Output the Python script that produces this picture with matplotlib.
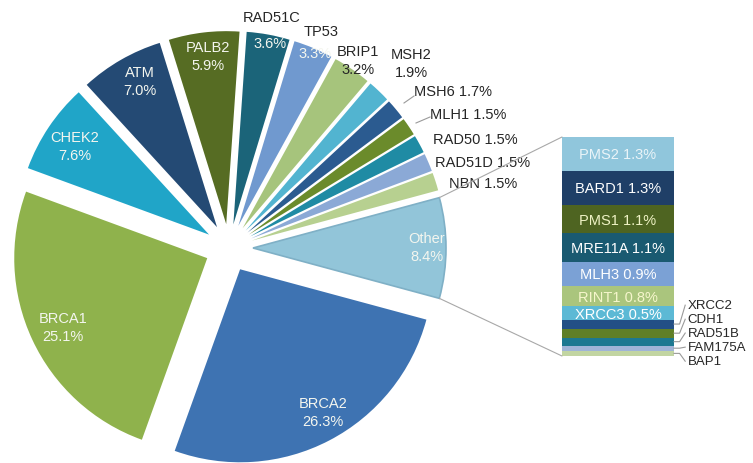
import numpy as np
import matplotlib.pyplot as plt
from matplotlib.patches import ConnectionPatch

plt.rcParams['font.family'] = ['Liberation Sans', 'DejaVu Sans']

# pie slices, clockwise starting with "Other" on the right
pie_labels = ['Other', 'BRCA2', 'BRCA1', 'CHEK2', 'ATM', 'PALB2', 'RAD51C', 'TP53',
              'BRIP1', 'MSH2', 'MSH6', 'MLH1', 'RAD50', 'RAD51D', 'NBN']
pie_values = [8.4, 26.3, 25.1, 7.6, 7.0, 5.9, 3.6, 3.3, 3.2, 1.9, 1.7, 1.5, 1.5, 1.5, 1.5]
pie_colors = ['#92c5d9', '#3e73b2', '#8fb24c', '#20a5c8', '#244a74', '#566c23', '#1b6479',
              '#7099cf', '#a6c47c', '#52b4d0', '#2b5b90', '#6b8b2b', '#1f8ba4', '#8ba9d6', '#b7d090']

# breakdown of "Other", top to bottom
bar_labels = ['PMS2', 'BARD1', 'PMS1', 'MRE11A', 'MLH3', 'RINT1', 'XRCC3',
              'XRCC2', 'CDH1', 'RAD51B', 'FAM175A', 'BAP1']
bar_values = [1.3, 1.3, 1.1, 1.1, 0.9, 0.8, 0.5, 0.35, 0.35, 0.3, 0.2, 0.2]
bar_colors = ['#90c6dc', '#1f3f67', '#4e6421', '#1a5a71', '#7ba1d5', '#aac57d', '#5cb9d5',
              '#234f85', '#5f7f27', '#1c7891', '#a0b4d7', '#c2d5a2']

W, H = 753, 464
fig = plt.figure(figsize=(W / 100, H / 100), dpi=100)
ax = fig.add_axes([0, 0, 1, 1])

wedges, _ = ax.pie(pie_values, colors=pie_colors, startangle=15.12, counterclock=False,
                   explode=[24] * len(pie_values), radius=193, center=(229, H - 249),
                   wedgeprops=dict(linewidth=0))
wedges[0].set_edgecolor('#7fb0c6')
wedges[0].set_linewidth(1.2)
ax.set_xlim(0, W)
ax.set_ylim(0, H)
ax.set_aspect('equal')
ax.axis('off')

txt = dict(fontsize=10.5, ha='center', va='center', linespacing=1.45)
white = '#f4f6ef'
dark = '#262626'

# labels on the pie (screen pixel positions, y measured from the top)
pie_text = [
    ('BRCA2\n26.3%', 323, 413, white),
    ('BRCA1\n25.1%', 63, 328, white),
    ('CHEK2\n7.6%', 75, 147, white),
    ('ATM\n7.0%', 140, 82, white),
    ('PALB2\n5.9%', 208, 57, white),
    ('RAD51C', 272, 18, dark),
    ('3.6%', 270, 44, white),
    ('TP53', 321, 32, dark),
    ('3.3%', 315, 54, white),
    ('BRIP1\n3.2%', 358, 61, dark),
    ('MSH2\n1.9%', 411, 64, dark),
    ('MSH6 1.7%', 453, 92, dark),
    ('MLH1 1.5%', 468, 115, dark),
    ('RAD50 1.5%', 475, 140, dark),
    ('RAD51D 1.5%', 483, 163, dark),
    ('NBN 1.5%', 483, 184, dark),
    ('Other\n8.4%', 427, 248, white),
]
for s, x, y, c in pie_text:
    ax.text(x, H - y, s, color=c, **txt)

# short leader lines for MSH6 and MLH1
ax.plot([414, 404], [H - 97, H - 104], color='#9a9a9a', lw=0.8)
ax.plot([430, 416], [H - 118, H - 124], color='#9a9a9a', lw=0.8)

# stacked bar for "Other"
ax2 = fig.add_axes([562 / W, (H - 357) / H, 112 / W, 219 / H])
bottoms = np.concatenate([[0], np.cumsum(bar_values)[:-1]])
ax2.bar(0, bar_values, bottom=bottoms, width=1, color=bar_colors, linewidth=0)
ax2.set_xlim(-0.5, 0.5)
ax2.set_ylim(sum(bar_values), 0)
ax2.axis('off')

bar_text_colors = ['#eaf4f8', 'white', '#eef2c4', 'white', 'white', '#f6f6cc', 'white']
for i in range(7):
    ax2.text(0, bottoms[i] + bar_values[i] / 2 + 0.02,
             f'{bar_labels[i]} {bar_values[i]}%', color=bar_text_colors[i], **txt)

# small segments labelled on the right, fanned out
side_y = [6.45, 6.99, 7.52, 8.06, 8.60]
for j, yl in enumerate(side_y):
    i = 7 + j
    yc = bottoms[i] + bar_values[i] / 2
    ax2.plot([0.5, 0.55, 0.6], [yc, yc, yl], color='#9a9a9a', lw=0.8, clip_on=False)
    ax2.text(0.62, yl, bar_labels[i], color=dark, fontsize=9.5, ha='left', va='center',
             clip_on=False)

# connector lines from the "Other" slice to the bar
w = wedges[0]
cx, cy = w.center
for ang, yb in [(w.theta2, 0), (w.theta1, sum(bar_values))]:
    a = np.deg2rad(ang)
    con = ConnectionPatch(xyA=(cx + w.r * np.cos(a), cy + w.r * np.sin(a)), coordsA=ax.transData,
                          xyB=(-0.5, yb), coordsB=ax2.transData, color='#a8a8a8', lw=0.8)
    fig.add_artist(con)

fig.savefig('out.png', dpi=100)
